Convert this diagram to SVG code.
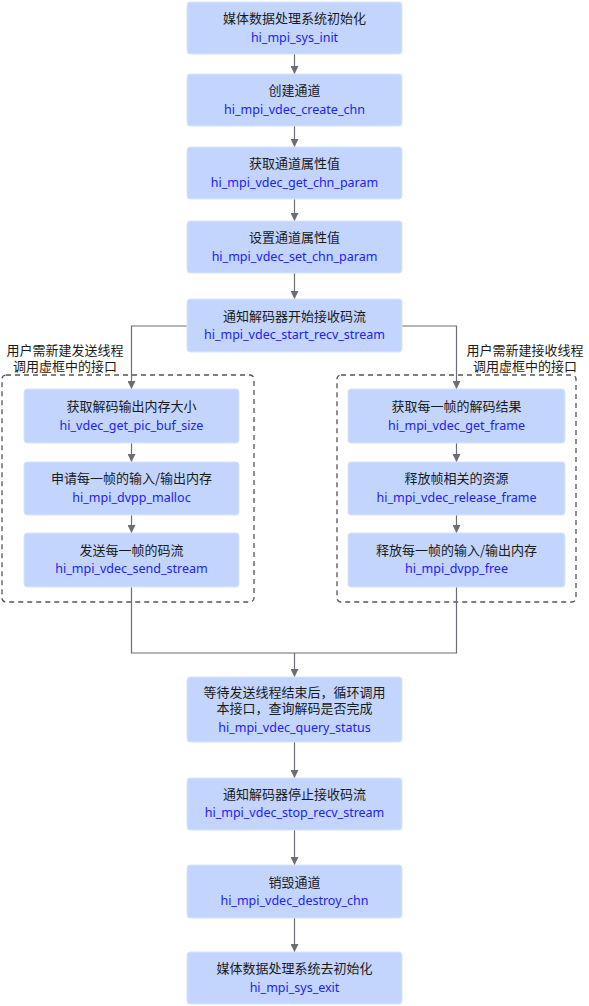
<svg xmlns="http://www.w3.org/2000/svg" width="589" height="1006" viewBox="0 0 589 1006">
<style>
.n{fill:#c3d5fd;stroke:#d8e4fe;stroke-width:1}
.t{font-family:"Noto Sans CJK SC","Noto Sans",sans-serif;font-size:13px;fill:#1a1a1a;text-anchor:middle}
.a{font-family:"Noto Sans","Liberation Sans",sans-serif;font-size:12.5px;fill:#2222f0;text-anchor:middle}
.c{fill:none;stroke:#6b6e75;stroke-width:1.2}
.d{fill:none;stroke:#555;stroke-width:1.3;stroke-dasharray:5 4}
</style>
<defs>
<marker id="ar" viewBox="0 0 8 8" refX="8" refY="4" markerWidth="8" markerHeight="8" markerUnits="userSpaceOnUse" orient="auto">
<path d="M0,0 L8,4 L0,8 Z" fill="#6b6e75"/>
</marker>
</defs>
<g id="frames">
<rect class="d" x="2" y="375" width="252" height="227" rx="4"/>
<rect class="d" x="337" y="375" width="239" height="227" rx="4"/>
<text class="t" x="65" y="355">用户需新建发送线程</text>
<text class="t" x="65" y="371">调用虚框中的接口</text>
<text class="t" x="525" y="355">用户需新建接收线程</text>
<text class="t" x="525" y="371">调用虚框中的接口</text>
</g>
<g id="connectors">
<path class="c" d="M294.5,54 V74" marker-end="url(#ar)"/>
<path class="c" d="M294.5,126 V147" marker-end="url(#ar)"/>
<path class="c" d="M294.5,199 V221" marker-end="url(#ar)"/>
<path class="c" d="M294.5,273 V299" marker-end="url(#ar)"/>
<path class="c" d="M187,326 H131.5 V389" marker-end="url(#ar)"/>
<path class="c" d="M402,326 H456.5 V389" marker-end="url(#ar)"/>
<path class="c" d="M131.5,443 V462" marker-end="url(#ar)"/>
<path class="c" d="M131.5,515 V533" marker-end="url(#ar)"/>
<path class="c" d="M456.5,443 V462" marker-end="url(#ar)"/>
<path class="c" d="M456.5,515 V533" marker-end="url(#ar)"/>
<path class="c" d="M131.5,587 V653 H456.5 V587"/>
<path class="c" d="M294.5,653 V677" marker-end="url(#ar)"/>
<path class="c" d="M294.5,742 V778" marker-end="url(#ar)"/>
<path class="c" d="M294.5,830 V865" marker-end="url(#ar)"/>
<path class="c" d="M294.5,918 V952" marker-end="url(#ar)"/>
</g>
<g id="n1"><rect class="n" x="187" y="2" width="215" height="52" rx="3"/><text class="t" x="294.5" y="23">媒体数据处理系统初始化</text><text class="a" x="294.5" y="42">hi_mpi_sys_init</text></g>
<g id="n2"><rect class="n" x="187" y="74" width="215" height="52" rx="3"/><text class="t" x="294.5" y="95">创建通道</text><text class="a" x="294.5" y="114">hi_mpi_vdec_create_chn</text></g>
<g id="n3"><rect class="n" x="187" y="147" width="215" height="52" rx="3"/><text class="t" x="294.5" y="168">获取通道属性值</text><text class="a" x="294.5" y="187">hi_mpi_vdec_get_chn_param</text></g>
<g id="n4"><rect class="n" x="187" y="221" width="215" height="52" rx="3"/><text class="t" x="294.5" y="242">设置通道属性值</text><text class="a" x="294.5" y="261">hi_mpi_vdec_set_chn_param</text></g>
<g id="n5"><rect class="n" x="187" y="299" width="215" height="53" rx="3"/><text class="t" x="294.5" y="320.5">通知解码器开始接收码流</text><text class="a" x="294.5" y="339">hi_mpi_vdec_start_recv_stream</text></g>
<g id="l1"><rect class="n" x="24" y="389" width="215" height="54" rx="3"/><text class="t" x="131.5" y="411">获取解码输出内存大小</text><text class="a" x="131.5" y="429.5">hi_vdec_get_pic_buf_size</text></g>
<g id="l2"><rect class="n" x="24" y="462" width="215" height="53" rx="3"/><text class="t" x="131.5" y="483">申请每一帧的输入/输出内存</text><text class="a" x="131.5" y="502">hi_mpi_dvpp_malloc</text></g>
<g id="l3"><rect class="n" x="24" y="533" width="215" height="54" rx="3"/><text class="t" x="131.5" y="554.5">发送每一帧的码流</text><text class="a" x="131.5" y="573">hi_mpi_vdec_send_stream</text></g>
<g id="r1"><rect class="n" x="348" y="389" width="217" height="54" rx="3"/><text class="t" x="456.5" y="411">获取每一帧的解码结果</text><text class="a" x="456.5" y="429.5">hi_mpi_vdec_get_frame</text></g>
<g id="r2"><rect class="n" x="348" y="462" width="217" height="53" rx="3"/><text class="t" x="456.5" y="483">释放帧相关的资源</text><text class="a" x="456.5" y="502">hi_mpi_vdec_release_frame</text></g>
<g id="r3"><rect class="n" x="348" y="533" width="217" height="54" rx="3"/><text class="t" x="456.5" y="554.5">释放每一帧的输入/输出内存</text><text class="a" x="456.5" y="573">hi_mpi_dvpp_free</text></g>
<g id="n6"><rect class="n" x="187" y="677" width="215" height="65" rx="3"/><text class="t" x="294.5" y="696.5">等待发送线程结束后，循环调用</text><text class="t" x="294.5" y="712.5">本接口，查询解码是否完成</text><text class="a" x="294.5" y="731.5">hi_mpi_vdec_query_status</text></g>
<g id="n7"><rect class="n" x="187" y="778" width="215" height="52" rx="3"/><text class="t" x="294.5" y="799">通知解码器停止接收码流</text><text class="a" x="294.5" y="817">hi_mpi_vdec_stop_recv_stream</text></g>
<g id="n8"><rect class="n" x="187" y="865" width="215" height="53" rx="3"/><text class="t" x="294.5" y="887">销毁通道</text><text class="a" x="294.5" y="905">hi_mpi_vdec_destroy_chn</text></g>
<g id="n9"><rect class="n" x="187" y="952" width="215" height="52" rx="3"/><text class="t" x="294.5" y="973">媒体数据处理系统去初始化</text><text class="a" x="294.5" y="991.5">hi_mpi_sys_exit</text></g>
</svg>
